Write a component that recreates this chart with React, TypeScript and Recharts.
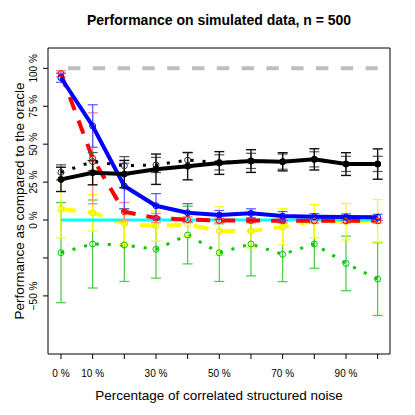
import React from 'react';
import { ComposedChart, Line, XAxis, YAxis, ErrorBar, ReferenceArea } from 'recharts';

const FONT = '"Liberation Sans", Arial, Helvetica, sans-serif';

const noise = [0, 10, 20, 30, 40, 50, 60, 70, 80, 90, 100];
const xTickLabels = ['0 %', '10 %', '', '30 %', '', '50 %', '', '70 %', '', '90 %', ''];
const yTicks = [-50, -25, 0, 25, 50, 75, 100];
const yTickLabels = ['\u221250 %', '', '0 %', '25 %', '50 %', '75 %', '100 %'];

const oracle = [100, 100, 100, 100, 100, 100, 100, 100, 100, 100, 100];
const zeroLine = [0, 0, 0, 0, 0, 0, 0, 0, 0, 0, 0];

const blackSolid = [26.8, 31.2, 30.3, 33.5, 35.5, 37.6, 38.9, 38.4, 40, 36.9, 36.9];
const blackSolidErr = [8, 8, 9, 10, 9, 7.5, 7.5, 6, 7, 7.5, 10];
const blackDotted = [31.4, 38.5, 35.8, 36.3, 39.5, 38, 39, 38.5, 40, 37, 37];
const blackDottedErr = [5, 6, 6, 5, 5, 5, 5, 5, 5, 5, 5];

const blue = [93.8, 62, 22.4, 9.4, 4.8, 3.3, 4.4, 2.6, 2.2, 2, 1.8];
const blueErr = [3, 14, 15, 8, 6, 3, 3, 3, 2, 2, 2];

const red = [96.5, 40.7, 5.5, 1.3, 0.3, -0.3, -0.3, -0.5, -0.5, -0.5, -0.5];
const redErr = [2, 30, 6, 3, 2, 1.5, 1.5, 1.5, 1.5, 1.5, 1.5];

const yellow = [7.3, 4.8, -2.2, -4, -2.9, -7.3, -7.3, -4.5, -0.7, -1.1, -0.5];
const yellowErr = [19, 12, 14, 10, 8, 16, 11, 12, 11, 12, 14];

const green = [-21.5, -15.8, -16.5, -19.3, -9.9, -21.5, -15.8, -22.6, -15.8, -28.6, -38.9];
const greenErr = [33, 29, 24, 19, 19, 19, 21, 18, 16, 18, 24];

const data = noise.map((x, i) => ({
  x,
  oracle: oracle[i],
  zero: zeroLine[i],
  blackSolid: blackSolid[i],
  blackSolidErr: blackSolidErr[i],
  blackDotted: blackDotted[i],
  blackDottedErr: blackDottedErr[i],
  blue: blue[i],
  blueErr: blueErr[i],
  red: red[i],
  redErr: redErr[i],
  yellow: yellow[i],
  yellowErr: yellowErr[i],
  green: green[i],
  greenErr: greenErr[i],
}));

const X_DOMAIN: [number, number] = [-4.1, 103.9];
const Y_DOMAIN: [number, number] = [-88.3, 113.4];

const YTick = (props: any) => {
  const { y, payload } = props;
  const idx = yTicks.indexOf(payload.value);
  const label = idx >= 0 ? yTickLabels[idx] : '';
  if (!label) return <g />;
  return (
    <text
      x={34}
      y={y}
      transform={`rotate(-90, 34, ${y})`}
      textAnchor="middle"
      dominantBaseline="central"
      fontSize={10}
      fontFamily={FONT}
      fill="#000"
    >
      {label}
    </text>
  );
};

const XTick = (props: any) => {
  const { x, payload } = props;
  const idx = noise.indexOf(payload.value);
  const label = idx >= 0 ? xTickLabels[idx] : '';
  if (!label) return <g />;
  return (
    <text x={x} y={377} textAnchor="middle" fontSize={10} fontFamily={FONT} fill="#000">
      {label}
    </text>
  );
};

const openDot = (color: string) => ({ r: 3, fill: 'none', stroke: color, strokeWidth: 1, strokeDasharray: 'none' });

export default function App() {
  return (
    <div style={{ position: 'absolute', left: 0, top: 0, width: 415, height: 415, background: '#fff' }}>
      <ComposedChart
        width={415}
        height={415}
        data={data}
        margin={{ top: 48, right: 25, bottom: 31, left: 0 }}
      >
        <XAxis
          type="number"
          dataKey="x"
          domain={X_DOMAIN}
          ticks={noise}
          interval={0}
          allowDataOverflow
          height={30}
          axisLine={false}
          tickLine={{ stroke: '#000' }}
          tickSize={5}
          tick={<XTick />}
        />
        <YAxis
          type="number"
          domain={Y_DOMAIN}
          ticks={yTicks}
          interval={0}
          allowDataOverflow
          width={48}
          axisLine={false}
          tickLine={{ stroke: '#000' }}
          tickSize={5}
          tick={<YTick />}
        />
        <ReferenceArea
          x1={X_DOMAIN[0]}
          x2={X_DOMAIN[1]}
          y1={Y_DOMAIN[0]}
          y2={Y_DOMAIN[1]}
          fill="none"
          fillOpacity={0}
          stroke="#000"
          strokeWidth={1}
        />
        <Line
          type="linear"
          dataKey="oracle"
          stroke="#BEBEBE"
          strokeWidth={4}
          strokeDasharray="12.4 12.4"
          strokeDashoffset={17.8}
          dot={false}
          isAnimationActive={false}
        />
        <Line
          type="linear"
          dataKey="green"
          stroke="#00C800"
          strokeWidth={3}
          strokeDasharray="3 9"
          dot={openDot('#00C800')}
          isAnimationActive={false}
        >
          <ErrorBar dataKey="greenErr" direction="y" width={5} stroke="#44CC44" strokeWidth={1.2} />
        </Line>
        <Line
          type="linear"
          dataKey="yellow"
          stroke="#FFFF00"
          strokeWidth={4}
          strokeDasharray="15 12"
          dot={openDot('#E8E800')}
          isAnimationActive={false}
        >
          <ErrorBar dataKey="yellowErr" direction="y" width={5} stroke="#FFFF00" strokeWidth={1.2} />
        </Line>
        <Line
          type="linear"
          dataKey="zero"
          stroke="#00FFFF"
          strokeWidth={3}
          dot={false}
          isAnimationActive={false}
        />
        <Line
          type="linear"
          dataKey="red"
          stroke="#FF0000"
          strokeWidth={4}
          strokeDasharray="14 11"
          dot={openDot('#FF0000')}
          isAnimationActive={false}
        >
          <ErrorBar dataKey="redErr" direction="y" width={5} stroke="#FF8C8C" strokeWidth={1.4} />
        </Line>
        <Line
          type="linear"
          dataKey="blue"
          stroke="#0000FF"
          strokeWidth={4}
          dot={openDot('#0000FF')}
          isAnimationActive={false}
        >
          <ErrorBar dataKey="blueErr" direction="y" width={5} stroke="#5555FF" strokeWidth={1.2} />
        </Line>
        <Line
          type="linear"
          dataKey="blackDotted"
          stroke="#000000"
          strokeWidth={3}
          strokeDasharray="3 9"
          dot={openDot('#333333')}
          isAnimationActive={false}
        >
          <ErrorBar dataKey="blackDottedErr" direction="y" width={5} stroke="#555555" strokeWidth={1.2} />
        </Line>
        <Line
          type="linear"
          dataKey="blackSolid"
          stroke="#000000"
          strokeWidth={4}
          dot={{ r: 3, fill: '#000', stroke: '#000', strokeWidth: 1 }}
          isAnimationActive={false}
        >
          <ErrorBar dataKey="blackSolidErr" direction="y" width={5} stroke="#111111" strokeWidth={1.4} />
        </Line>
      </ComposedChart>
      <svg
        width={415}
        height={415}
        style={{ position: 'absolute', left: 0, top: 0, pointerEvents: 'none' }}
      >
        <text x={219} y={25} textAnchor="middle" fontSize={14} fontWeight="bold" fontFamily={FONT} fill="#000">
          Performance on simulated data, n = 500
        </text>
        <text x={219} y={400} textAnchor="middle" fontSize={13.5} fontFamily={FONT} fill="#000">
          Percentage of correlated structured noise
        </text>
        <text
          x={24}
          y={201}
          transform="rotate(-90, 24, 201)"
          textAnchor="middle"
          fontSize={13.5}
          fontFamily={FONT}
          fill="#000"
        >
          Performance as compared to the oracle
        </text>
      </svg>
    </div>
  );
}
